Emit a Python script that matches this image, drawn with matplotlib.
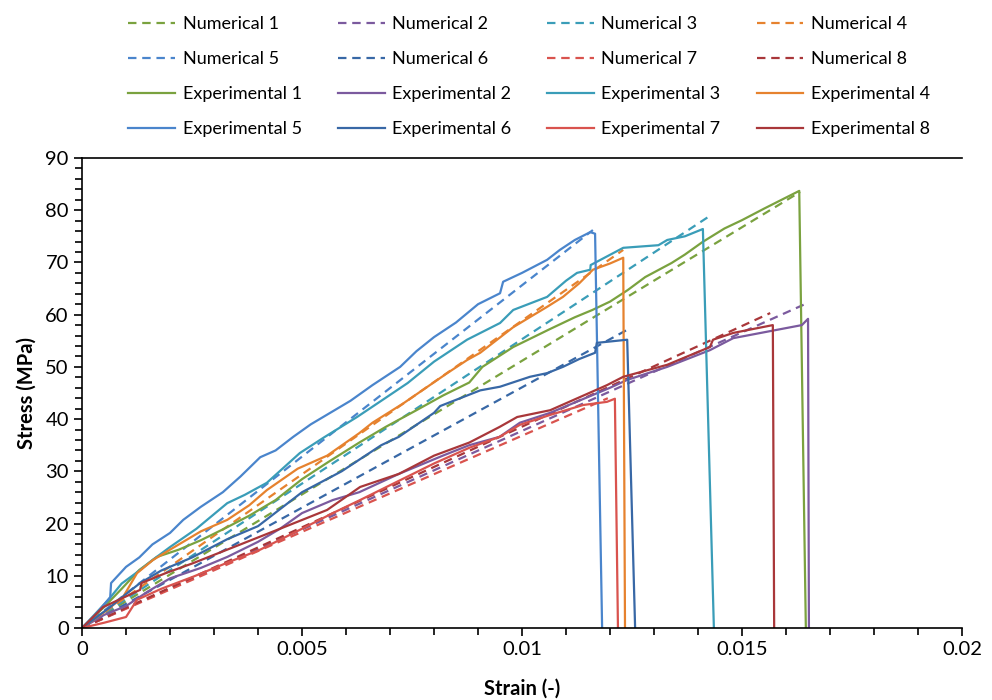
import matplotlib.pyplot as plt
from matplotlib.ticker import MultipleLocator

plt.rcParams['font.family'] = ['Lato', 'DejaVu Sans']

colors = ['#7aa23f', '#7b5a9e', '#3a9db8', '#e6822e',
          '#4a85cc', '#3868a6', '#d9534e', '#a9373a']

# numerical (FE) curves: straight from origin to failure point
num_strain = [
    [0, 0.01632],
    [0, 0.01648],
    [0, 0.01423],
    [0, 0.0123],
    [0, 0.01161],
    [0, 0.01239],
    [0, 0.01195],
    [0, 0.01564],
]
num_stress = [
    [0, 83.5],
    [0, 62.2],
    [0, 78.7],
    [0, 72.4],
    [0, 76.2],
    [0, 57.1],
    [0, 44.0],
    [0, 60.3],
]

# experimental curves
exp1_strain = [0, 0.0005, 0.0009, 0.0013, 0.0017, 0.0022, 0.0027, 0.0033, 0.0038, 0.0044, 0.005,
               0.0056, 0.0063, 0.0069, 0.0076, 0.0082, 0.0088, 0.0091, 0.0098, 0.0106, 0.0112,
               0.0116, 0.012, 0.0124, 0.0128, 0.0134, 0.0137, 0.0141, 0.0146, 0.015, 0.0155,
               0.0159, 0.0163, 0.01645]
exp1_stress = [0, 4, 7.5, 11.1, 13.6, 15.0, 16.8, 19.3, 21.5, 24.5, 28.5,
               31.8, 35.5, 38.5, 41.7, 44.5, 47, 50, 53.8, 57.1, 59.5,
               60.9, 62.5, 64.7, 67.2, 69.9, 71.5, 73.9, 76.5, 78.1, 80.3,
               82, 83.7, 0]

exp2_strain = [0, 0.0005, 0.001, 0.0015, 0.002, 0.0027, 0.0033, 0.004, 0.0045, 0.005, 0.0057,
               0.0063, 0.0072, 0.0082, 0.0088, 0.00949, 0.00995, 0.01064, 0.012, 0.01239,
               0.0133, 0.01427, 0.0148, 0.01636, 0.0165, 0.01652]
exp2_stress = [0, 2.5, 4.2, 7, 9.5, 11.5, 13.6, 16.5, 19, 22, 24.5,
               26, 29.5, 33, 35, 36.6, 39.3, 41.2, 46, 47.5,
               50, 53.2, 55.5, 58, 59.2, 0]

exp3_strain = [0, 0.0006, 0.0009, 0.00132, 0.0016, 0.002, 0.0026, 0.0033, 0.0037, 0.0042,
               0.00495, 0.0055, 0.00625, 0.0068, 0.0074, 0.008, 0.00875, 0.0095, 0.0098,
               0.01057, 0.011, 0.01125, 0.01155, 0.01156, 0.0123, 0.0131, 0.0133, 0.0137,
               0.01411, 0.01436]
exp3_stress = [0, 5.4, 8.5, 11.1, 13, 15.5, 19, 23.9, 25.5, 27.8,
               33.5, 36.5, 40.4, 43.5, 46.9, 51, 55.2, 58.4, 60.9,
               63.4, 66.5, 68, 68.6, 69.5, 72.8, 73.3, 74.3, 75,
               76.4, 0]

exp4_strain = [0, 0.0005, 0.00093, 0.00125, 0.00161, 0.002, 0.0027, 0.0033, 0.0038, 0.0042,
               0.0049, 0.00557, 0.0063, 0.0066, 0.0073, 0.0083, 0.00875, 0.00905, 0.0098,
               0.01057, 0.01093, 0.0113, 0.01161, 0.012, 0.0123, 0.01234]
exp4_stress = [0, 3, 5.9, 10.5, 13, 15, 18.5, 20.7, 23.5, 26.4,
               30.5, 33, 37.3, 39.3, 43, 48.8, 51.3, 52.7, 57.6,
               61.5, 63.4, 66, 68.6, 69.8, 70.9, 0]

exp5_strain = [0, 0.0003, 0.00064, 0.00066, 0.001, 0.0013, 0.0016, 0.002, 0.0023, 0.0027,
               0.0032, 0.0036, 0.00405, 0.0044, 0.0048, 0.0052, 0.0057, 0.0061, 0.0066,
               0.00723, 0.0076, 0.008, 0.0085, 0.009, 0.0095, 0.00957, 0.01, 0.01057,
               0.01086, 0.0112, 0.01155, 0.01166, 0.01182]
exp5_stress = [0, 2.5, 5.9, 8.6, 11.7, 13.5, 16, 18.2, 20.7, 23.2,
               26, 29, 32.7, 34, 36.6, 39, 41.5, 43.5, 46.5,
               50, 53, 55.7, 58.5, 62, 64.1, 66.3, 68, 70.5,
               72.4, 74.3, 75.8, 75.5, 0]

exp6_strain = [0, 0.00064, 0.001, 0.00132, 0.0018, 0.0025, 0.0033, 0.004, 0.005, 0.0059,
               0.0068, 0.0072, 0.008, 0.00814, 0.00905, 0.0095, 0.01018, 0.01057, 0.01093,
               0.0113, 0.01166, 0.0117, 0.01239, 0.01257]
exp6_stress = [0, 4, 6.5, 8.6, 11, 13.5, 17, 19.5, 26, 30,
               35, 36.6, 41.2, 42.5, 45.5, 46.2, 48.1, 48.8, 50,
               51.5, 52.7, 54.6, 55.2, 0]

exp7_strain = [0, 0.0005, 0.001, 0.00125, 0.0018, 0.00252, 0.0033, 0.00405, 0.005, 0.0057,
               0.00632, 0.00723, 0.008, 0.0088, 0.00949, 0.00995, 0.01064, 0.01139, 0.01193,
               0.01211, 0.01218]
exp7_stress = [0, 1, 2.1, 5.4, 7.5, 9.8, 12.5, 15, 19, 22,
               24.5, 28.3, 31.5, 34.5, 36.6, 38.9, 40.8, 42.7, 43.3,
               43.9, 0]

exp8_strain = [0, 0.00048, 0.00132, 0.00135, 0.0019, 0.00252, 0.0033, 0.0045, 0.00557, 0.00632,
               0.0072, 0.008, 0.0088, 0.00949, 0.00989, 0.01064, 0.01193, 0.0123, 0.0133,
               0.01427, 0.01434, 0.0148, 0.0157, 0.01573]
exp8_stress = [0, 4, 7.3, 8.6, 10.5, 12.4, 15, 19, 22.6, 27,
               29.5, 33, 35.5, 38.5, 40.4, 41.7, 46.5, 48.1, 50.4,
               53.8, 55.2, 56.5, 58, 0]

exp_strain = [exp1_strain, exp2_strain, exp3_strain, exp4_strain,
              exp5_strain, exp6_strain, exp7_strain, exp8_strain]
exp_stress = [exp1_stress, exp2_stress, exp3_stress, exp4_stress,
              exp5_stress, exp6_stress, exp7_stress, exp8_stress]

fig = plt.figure(figsize=(9.92, 7.0), dpi=100)
ax = fig.add_axes([0.0827, 0.1029, 0.8871, 0.6714])

num_lines = []
exp_lines = []
for i in range(8):
    ln, = ax.plot(num_strain[i], num_stress[i], color=colors[i], lw=1.6,
                  dashes=(3.8, 2.6), label='Numerical %d' % (i + 1))
    num_lines.append(ln)
for i in range(8):
    ln, = ax.plot(exp_strain[i], exp_stress[i], color=colors[i], lw=1.6,
                  label='Experimental %d' % (i + 1))
    exp_lines.append(ln)

ax.set_xlim(0, 0.02)
ax.set_ylim(0, 90)
ax.xaxis.set_major_locator(MultipleLocator(0.005))
ax.xaxis.set_minor_locator(MultipleLocator(0.001))
ax.yaxis.set_major_locator(MultipleLocator(10))
ax.yaxis.set_minor_locator(MultipleLocator(2))
ax.set_xticks([0, 0.005, 0.01, 0.015, 0.02])
ax.set_xticklabels(['0', '0.005', '0.01', '0.015', '0.02'])
ax.tick_params(which='both', direction='out', color='black', width=1.2, labelsize=14.5)
ax.tick_params(which='major', length=6)
ax.tick_params(which='minor', length=5)
ax.spines['right'].set_visible(False)
for s in ['left', 'bottom', 'top']:
    ax.spines[s].set_linewidth(1.2)

ax.set_xlabel('Strain (-)', fontsize=14.5, fontweight='bold', labelpad=15)
ax.set_ylabel('Stress (MPa)', fontsize=14.5, fontweight='bold', labelpad=6)

# legend laid out row by row: numericals first, then experimentals
handles = []
for j in range(4):
    handles += [num_lines[j], num_lines[j + 4], exp_lines[j], exp_lines[j + 4]]
fig.legend(handles=handles, labels=[h.get_label() for h in handles],
           loc='upper left', bbox_to_anchor=(0.113, 1.0), ncol=4, frameon=False,
           fontsize=13, handlelength=2.6, handletextpad=0.4,
           columnspacing=2.0, labelspacing=1.05)

fig.savefig('out.png', dpi=100)
